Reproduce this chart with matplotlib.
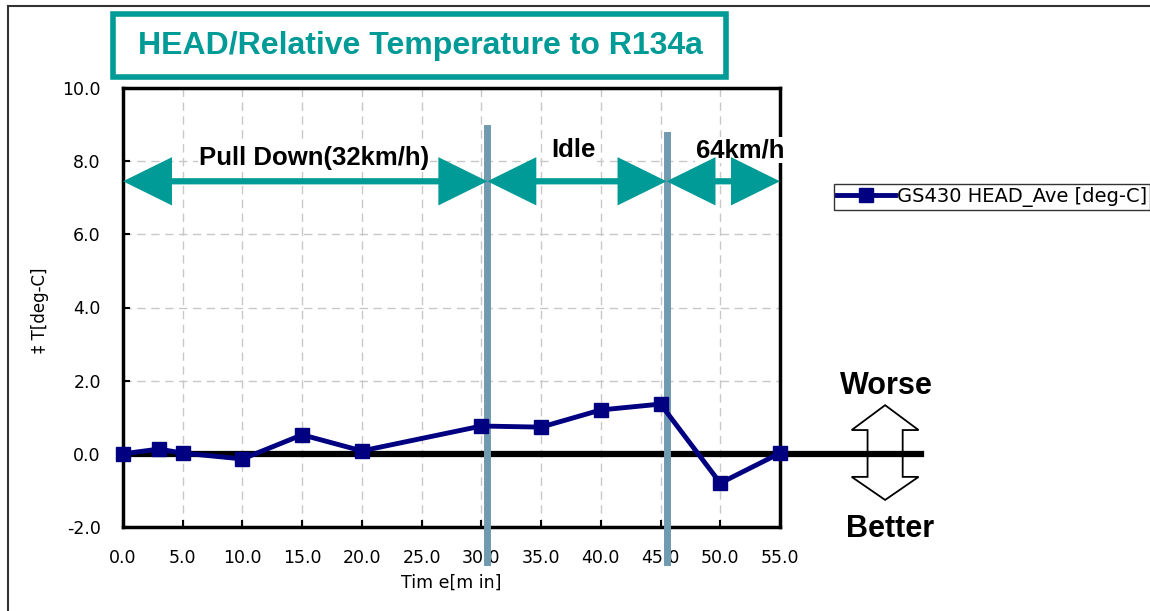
import numpy as np
import matplotlib
matplotlib.use("Agg")
import matplotlib.pyplot as plt
from matplotlib.patches import Polygon, Rectangle
from matplotlib.lines import Line2D

plt.rcParams['font.family'] = ['DejaVu Sans']
bold_font = ['Liberation Sans', 'DejaVu Sans']

## data
time_min = [0.0, 3.0, 5.0, 10.0, 15.0, 20.0, 30.0, 35.0, 40.0, 45.0, 50.0, 55.0]
head_ave = [0.0, 0.13, 0.02, -0.14, 0.52, 0.08, 0.76, 0.73, 1.20, 1.36, -0.80, 0.02]
series_name = 'GS430 HEAD_Ave [deg-C]'

## test phases
phase_names = ['Pull Down(32km/h)', 'Idle', '64km/h']
phase_start = [0.0, 30.5, 45.5]
phase_end = [30.5, 45.5, 55.0]

xticks = np.arange(0, 55.1, 5)
yticks = np.arange(-2, 10.1, 2)

teal = '#009b96'
navy = '#000080'
steel = '#6f9ab0'

fig = plt.figure(figsize=(11.5, 6.11), dpi=100)
ax = fig.add_axes([123/1150, 1-527/611, 657/1150, 439/611])

## grid
for x in xticks[1:-1]:
    ax.axvline(x, color='#c8c8c8', lw=1, ls=(0, (6, 4)), zorder=0)
for y in yticks[1:-1]:
    ax.axhline(y, color='#c8c8c8', lw=1, ls=(0, (6, 4)), zorder=0)

ax.set_xlim(0, 55)
ax.set_ylim(-2, 10)
ax.set_xticks(xticks)
ax.set_yticks(yticks)
ax.set_xticklabels(['%.1f' % v for v in xticks])
ax.set_yticklabels(['%.1f' % v for v in yticks])
ax.tick_params(direction='in', length=5, width=1.5, labelsize=12.5)
ax.tick_params(axis='x', pad=16)
ax.tick_params(axis='y', pad=16)
for sp in ax.spines.values():
    sp.set_linewidth(2.5)

## zero line, reaching out to the Worse/Better arrow
ax.plot([0, 66.8], [0, 0], color='black', lw=4.5, clip_on=False, zorder=3)

## series
ax.plot(time_min, head_ave, color=navy, lw=3.5, marker='s', ms=10,
        clip_on=False, zorder=5)

## phase dividers
ax.plot([phase_end[0]] * 2, [8.9, -2.95], color=steel, lw=5, clip_on=False, zorder=4)
ax.plot([phase_end[1]] * 2, [8.72, -2.95], color=steel, lw=5, clip_on=False, zorder=4)


def double_arrow(x0, x1, y, hl=4.1, hw=0.66, sw=0.085):
    pts = [(x0, y), (x0 + hl, y + hw), (x0 + hl, y + sw), (x1 - hl, y + sw),
           (x1 - hl, y + hw), (x1, y), (x1 - hl, y - hw), (x1 - hl, y - sw),
           (x0 + hl, y - sw), (x0 + hl, y - hw)]
    return Polygon(pts, closed=True, facecolor=teal, edgecolor='none',
                   clip_on=False, zorder=6)


label_y = [8.1, 8.3, 8.3]
label_x = [16.0, 37.7, 51.7]
for i in range(3):
    ax.text(label_x[i], label_y[i], phase_names[i], fontsize=18.5, fontweight='bold',
            family=bold_font, ha='center', va='center', zorder=5,
            bbox=dict(facecolor='white', edgecolor='none', pad=1))
    ax.add_patch(double_arrow(phase_start[i], phase_end[i], 7.45))

## Worse / Better hollow arrow
cx, sh, hh = 63.8, 1.47, 2.8
wb = [(cx, 1.33), (cx + hh, 0.65), (cx + sh, 0.65), (cx + sh, -0.63),
      (cx + hh, -0.63), (cx, -1.26), (cx - hh, -0.63), (cx - sh, -0.63),
      (cx - sh, 0.65), (cx - hh, 0.65)]
ax.add_patch(Polygon(wb, closed=True, facecolor='none', edgecolor='black', lw=1.3,
                     clip_on=False, zorder=2))
ax.text(63.9, 1.85, 'Worse', fontsize=22, fontweight='bold', family=bold_font,
        ha='center', va='center')
ax.text(64.2, -2.05, 'Better', fontsize=22, fontweight='bold', family=bold_font,
        ha='center', va='center')

ax.set_xlabel('Tim e[m in]', fontsize=12.5, labelpad=5)
fig.text(40/1150, 1-310/611, '\u2021 T[deg-C]', rotation=90, fontsize=12,
         ha='center', va='center')

## legend
h = Line2D([], [], color=navy, lw=3.5, marker='s', ms=10)
fig.legend([h], [series_name], loc='upper left',
           bbox_to_anchor=(834/1150, 1-184/611), frameon=True, fancybox=False,
           edgecolor='black', fontsize=14, handlelength=3.0, handletextpad=0.1,
           borderpad=0.15, borderaxespad=0)

## title box
fig.patches.append(Rectangle((113/1150, 1-77/611), 613/1150, 63/611,
                             transform=fig.transFigure, facecolor='white',
                             edgecolor=teal, lw=4))
fig.text(420/1150, 1-46/611, 'HEAD/Relative Temperature to R134a', fontsize=23,
         fontweight='bold', family=bold_font, color=teal, ha='center', va='center')

## outer frame
fig.add_artist(Line2D([8/1150, 8/1150], [0, 1-6/611], color='#333333', lw=1.5,
                      transform=fig.transFigure))
fig.add_artist(Line2D([8/1150, 1], [1-6/611, 1-6/611], color='#333333', lw=1.5,
                      transform=fig.transFigure))

fig.savefig('out.png', dpi=100)
